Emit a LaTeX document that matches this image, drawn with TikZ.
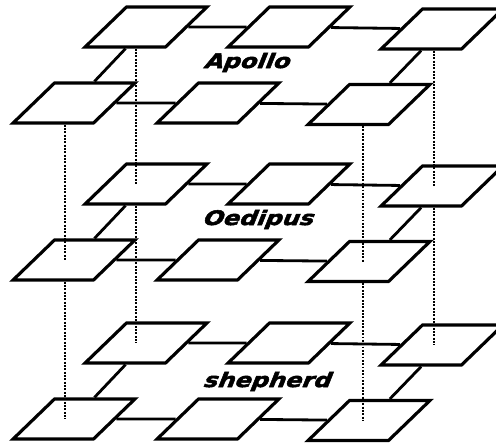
\documentclass[tikz,border=0pt]{standalone}
\usepackage{fontspec}
\newfontfamily\lblfont[FakeStretch=1.2,FakeSlant=0.4,FakeBold=2.5]{DejaVu Sans}
\usetikzlibrary{shapes.geometric,calc}
\tikzset{
  pad/.style={trapezium,trapezium left angle=44,trapezium right angle=136,
    draw,fill=white,line width=1.8pt,inner xsep=0.39cm,inner ysep=0.4cm},
  link/.style={line width=1.6pt},
  pole/.style={line width=1.5pt,dash pattern=on 1.1pt off 0.8pt},
  tag/.style={font=\lblfont\bfseries\fontsize{11.4}{13}\selectfont,anchor=base},
}
\begin{document}
\begin{tikzpicture}[x=0.02cm,y=-0.02cm]
  \useasboundingbox (0,0) rectangle (496,443);
  \clip (0,0) rectangle (496,443);
  % three layers of six pads each
  \foreach \l/\dy in {1/0,2/157,3/316} {
    \foreach \n/\x/\y in {a/146/27,b/289/27,c/442/29,d/74/103,e/218/103,f/369/104.5}
      \node[pad] (L\l\n) at (\x,\y+\dy) {};
    \draw[link] (L\l a) -- (L\l b) (L\l b) -- (L\l c)
      (L\l d) -- (L\l e) (L\l e) -- (L\l f)
      (L\l a) -- (L\l d) (L\l c) -- (L\l f);
  }
  % dotted poles between the layers
  \foreach \n/\px in {a/136,c/434,d/65,f/363} {
    \coordinate (pole\n) at (\px,0);
    \draw[pole] (pole\n |- L1\n.south) -- (pole\n |- L2\n.center)
      (pole\n |- L2\n.south) -- (pole\n |- L3\n.center);
  }
  \node[tag] (apollo) at (246,68) {Apollo};
  \node[tag] (oedipus) at (257,225) {Oedipus};
  \node[tag] (shepherd) at (266,387) {shepherd};
\end{tikzpicture}
\end{document}
